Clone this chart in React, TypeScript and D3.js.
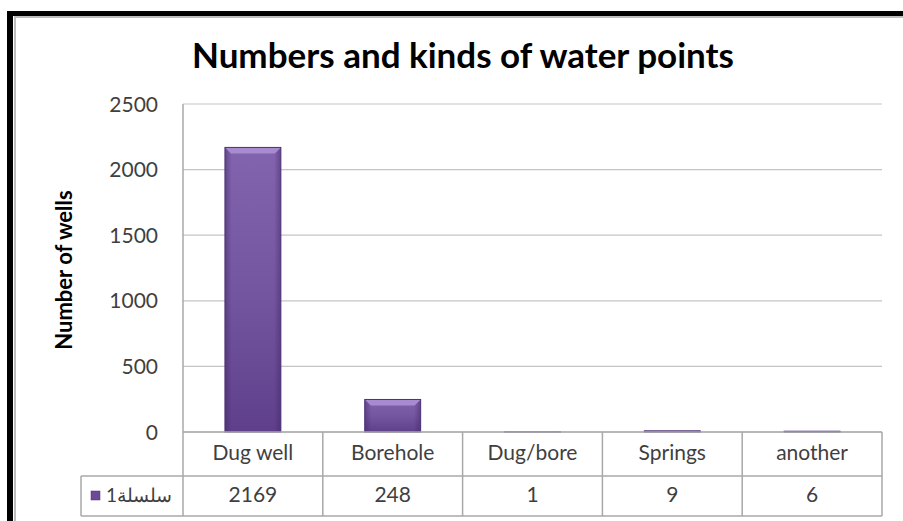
import React from "react";
import * as d3 from "d3";

const categories = ["Dug well", "Borehole", "Dug/bore", "Springs", "another"];
const values = [2169, 248, 1, 9, 6];
const yTicks = [0, 500, 1000, 1500, 2000, 2500];
const seriesName = "سلسلة1";
const chartTitle = "Numbers and kinds of water points";
const yTitle = "Number of wells";

const W = 903;
const H = 521;
const FONT = "Lato, 'Open Sans', sans-serif";

export default function App() {
  const plotLeft = 183;
  const plotRight = 882;
  const y = d3.scaleLinear().domain([0, 2500]).range([432, 104]);
  const x = d3.scaleBand<string>().domain(categories).range([plotLeft, plotRight]).paddingInner(0).paddingOuter(0);
  const colW = x.bandwidth();
  const barW = colW * 0.4;
  const row1Top = y(0);
  const row2Top = 476;
  const tableBottom = 516;
  const legendLeft = 81;
  const gridColor = "#c4c4c4";
  const tableColor = "#a8a8a8";
  const textColor = "#3f3f3f";

  return (
    <svg width={W} height={H} style={{ position: "absolute", left: 0, top: 0, background: "#fff" }}>
      <defs>
        <linearGradient id="barV" x1="0" y1="0" x2="0" y2="1">
          <stop offset="0" stopColor="#8264ae" />
          <stop offset="0.5" stopColor="#7456a0" />
          <stop offset="1" stopColor="#5f3f8b" />
        </linearGradient>
        <linearGradient id="barH" x1="0" y1="0" x2="1" y2="0">
          <stop offset="0" stopColor="#3c2460" stopOpacity="0.45" />
          <stop offset="0.12" stopColor="#3c2460" stopOpacity="0" />
          <stop offset="0.88" stopColor="#3c2460" stopOpacity="0" />
          <stop offset="1" stopColor="#3c2460" stopOpacity="0.45" />
        </linearGradient>
      </defs>
      {/* frame */}
      <rect x={7} y={11} width={W} height={5} fill="#000" />
      <rect x={7} y={11} width={6} height={H} fill="#000" />
      <rect x={14} y={16} width={W} height={2} fill="#bdbdbd" />
      <rect x={14} y={16} width={2} height={H} fill="#bdbdbd" />

      {/* title */}
      <text x={463} y={68} textAnchor="middle" fontFamily={FONT} fontWeight="bold" fontSize={35} fill="#000">
        {chartTitle}
      </text>

      {/* gridlines */}
      {yTicks.map((t) => (
        <line key={t} x1={plotLeft} x2={plotRight} y1={y(t)} y2={y(t)} stroke={gridColor} strokeWidth={1.2} />
      ))}
      <line x1={plotLeft} x2={plotLeft} y1={y(2500)} y2={tableBottom} stroke={tableColor} strokeWidth={1.5} />

      {/* y tick labels */}
      {yTicks.map((t) => (
        <text key={t} x={158} y={y(t) + 7.5} textAnchor="end" fontFamily={FONT} fontSize={21} fill={textColor}>
          {t}
        </text>
      ))}

      {/* y title */}
      <text
        transform={`translate(72,${270}) rotate(-90)`}
        textAnchor="middle"
        fontFamily={FONT}
        fontWeight="bold"
        fontSize={22}
        fill="#000"
      >
        {yTitle}
      </text>

      {/* bars */}
      {categories.map((c, i) => {
        const cx = (x(c) as number) + colW / 2;
        const x0 = cx - barW / 2;
        const top = y(values[i]);
        const h = y(0) - top;
        const bev = Math.min(6, h / 2);
        return (
          <g key={c}>
            <rect x={x0} y={top} width={barW} height={h} fill="url(#barV)" />
            <rect x={x0} y={top} width={barW} height={h} fill="url(#barH)" />
            {h > 4 && (
              <polygon
                points={`${x0},${top} ${x0 + barW},${top} ${x0 + barW - bev},${top + bev} ${x0 + bev},${top + bev}`}
                fill="#a88ad0"
              />
            )}
            <rect x={x0} y={top} width={barW} height={h} fill="none" stroke="#4d3275" strokeWidth={1} />
          </g>
        );
      })}

      {/* data table */}
      <line x1={plotLeft} x2={plotRight} y1={row1Top} y2={row1Top} stroke={tableColor} strokeWidth={1.5} />
      <line x1={legendLeft} x2={plotRight} y1={row2Top} y2={row2Top} stroke={tableColor} strokeWidth={1.5} />
      <line x1={legendLeft} x2={plotRight} y1={tableBottom} y2={tableBottom} stroke={tableColor} strokeWidth={1.5} />
      <line x1={legendLeft} x2={legendLeft} y1={row2Top} y2={tableBottom} stroke={tableColor} strokeWidth={1.5} />
      {categories.map((c) => (
        <line
          key={c}
          x1={(x(c) as number) + colW}
          x2={(x(c) as number) + colW}
          y1={row1Top}
          y2={tableBottom}
          stroke={tableColor}
          strokeWidth={1.5}
        />
      ))}
      {categories.map((c, i) => (
        <g key={c}>
          <text x={(x(c) as number) + colW / 2} y={460} textAnchor="middle" fontFamily={FONT} fontSize={21} fill={textColor}>
            {c}
          </text>
          <text x={(x(c) as number) + colW / 2} y={502} textAnchor="middle" fontFamily={FONT} fontSize={21} fill={textColor}>
            {values[i]}
          </text>
        </g>
      ))}
      <rect x={91} y={491} width={9} height={9} fill="#6b4b98" stroke="#4d3275" strokeWidth={0.5} />
      <text x={106} y={502} fontFamily={FONT} fontSize={19} fill={textColor}>
        {seriesName}
      </text>
    </svg>
  );
}
